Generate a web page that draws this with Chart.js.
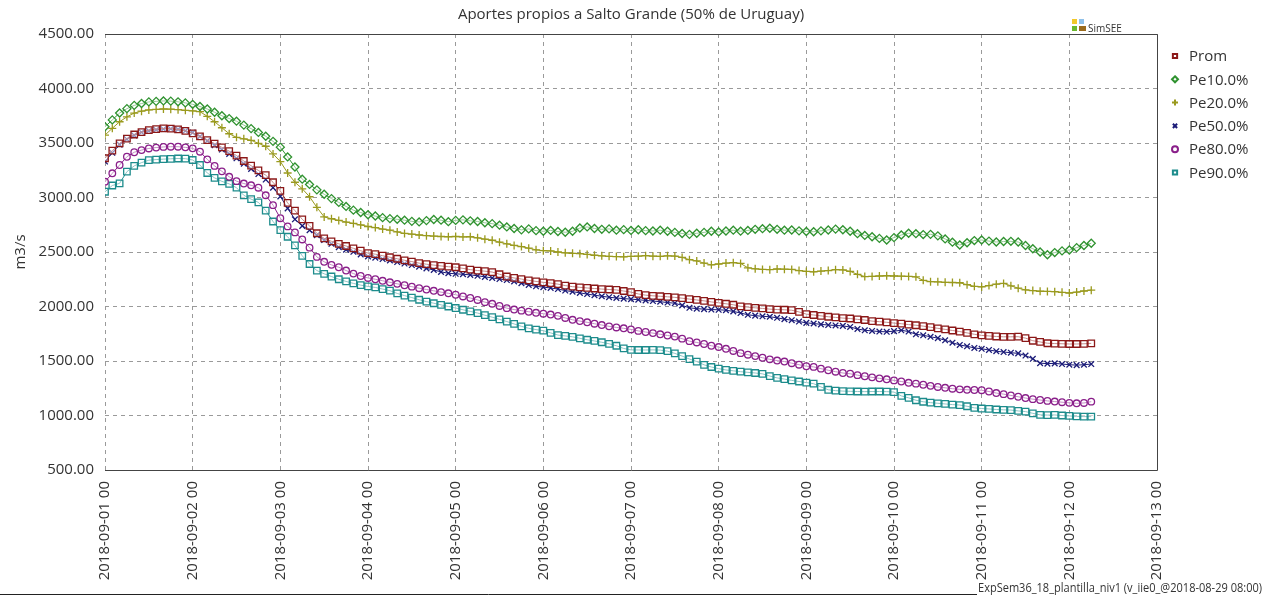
<!DOCTYPE html>
<html>
<head>
<meta charset="utf-8">
<script src="https://cdn.jsdelivr.net/npm/chart.js@4.4.1/dist/chart.umd.min.js"></script>
<style>
  html, body { margin: 0; padding: 0; background: #fff; }
  #wrap { width: 1274px; height: 597px; }
</style>
</head>
<body>
<div id="wrap"><canvas id="chart" width="1274" height="597"></canvas></div>
<script>
// Etichetas del eje X (una por día)
const dayLabels = ['2018-09-01 00', '2018-09-02 00', '2018-09-03 00', '2018-09-04 00', '2018-09-05 00',
    '2018-09-06 00', '2018-09-07 00', '2018-09-08 00', '2018-09-09 00', '2018-09-10 00',
    '2018-09-11 00', '2018-09-12 00', '2018-09-13 00'];
const stepHours = 2; // un valor cada 2 horas desde 2018-09-01 00

const prom = [
    3360, 3430, 3497, 3540, 3578, 3600, 3618, 3628, 3634, 3632, 3625, 3612,
    3589, 3560, 3527, 3495, 3460, 3425, 3385, 3335, 3292, 3248, 3205, 3140,
    3060, 2950, 2880, 2800, 2740, 2672, 2625, 2598, 2575, 2555, 2534, 2512,
    2490, 2480, 2466, 2452, 2438, 2424, 2412, 2398, 2388, 2380, 2372, 2365,
    2360, 2350, 2338, 2330, 2324, 2316, 2296, 2275, 2262, 2252, 2240, 2230,
    2222, 2215, 2205, 2192, 2182, 2176, 2170, 2165, 2160, 2156, 2152, 2142,
    2132, 2115, 2104, 2098, 2094, 2089, 2084, 2076, 2068, 2060, 2052, 2042,
    2034, 2025, 2016, 2002, 1994, 1988, 1982, 1976, 1972, 1970, 1966, 1950,
    1930, 1922, 1914, 1906, 1900, 1894, 1890, 1882, 1876, 1866, 1861, 1855,
    1848, 1842, 1834, 1828, 1820, 1810, 1800, 1790, 1780, 1770, 1758, 1745,
    1735, 1730, 1725, 1722, 1722, 1723, 1710, 1686, 1675, 1663, 1660, 1658,
    1656, 1656, 1658, 1662
];
const pe10 = [
    3649, 3712, 3775, 3815, 3845, 3862, 3877, 3882, 3886, 3884, 3878, 3868,
    3855, 3835, 3812, 3782, 3750, 3724, 3700, 3664, 3632, 3597, 3562, 3515,
    3462, 3372, 3280, 3168, 3120, 3070, 3030, 2990, 2955, 2918, 2884, 2862,
    2842, 2830, 2815, 2806, 2800, 2792, 2781, 2776, 2788, 2798, 2792, 2778,
    2790, 2795, 2786, 2780, 2768, 2760, 2746, 2730, 2716, 2703, 2712, 2696,
    2690, 2698, 2688, 2681, 2690, 2720, 2730, 2716, 2708, 2712, 2700, 2705,
    2698, 2704, 2696, 2693, 2700, 2690, 2680, 2670, 2662, 2672, 2680, 2690,
    2684, 2693, 2700, 2691, 2698, 2708, 2714, 2718, 2708, 2700, 2702, 2694,
    2688, 2686, 2694, 2702, 2710, 2704, 2690, 2668, 2652, 2640, 2625, 2610,
    2632, 2656, 2672, 2668, 2660, 2662, 2648, 2620, 2590, 2564, 2585, 2605,
    2610, 2600, 2592, 2596, 2598, 2592, 2560, 2530, 2500, 2475, 2495, 2510,
    2518, 2540, 2560, 2580
];
const pe20 = [
    3573, 3635, 3695, 3740, 3775, 3792, 3803, 3808, 3812, 3810, 3806, 3800,
    3795, 3787, 3745, 3695, 3640, 3585, 3552, 3538, 3525, 3497, 3470, 3400,
    3330, 3225, 3140, 3080, 3007, 2910, 2822, 2805, 2790, 2775, 2762, 2748,
    2734, 2724, 2710, 2700, 2684, 2670, 2664, 2656, 2650, 2646, 2642, 2640,
    2642, 2638, 2640, 2630, 2618, 2608, 2590, 2575, 2560, 2550, 2535, 2520,
    2512, 2510, 2500, 2492, 2488, 2485, 2478, 2470, 2465, 2460, 2458, 2456,
    2460, 2462, 2466, 2462, 2460, 2465, 2463, 2450, 2430, 2418, 2398, 2382,
    2390, 2398, 2402, 2395, 2355, 2346, 2340, 2338, 2344, 2342, 2340, 2330,
    2322, 2318, 2325, 2330, 2338, 2336, 2322, 2295, 2275, 2276, 2280, 2282,
    2280, 2278, 2276, 2272, 2240, 2228, 2226, 2222, 2220, 2218, 2200, 2185,
    2180, 2192, 2205, 2212, 2190, 2168, 2152, 2146, 2140, 2138, 2136, 2130,
    2124, 2132, 2142, 2150
];
const pe50 = [
    3330, 3410, 3485, 3535, 3570, 3598, 3612, 3622, 3628, 3630, 3625, 3612,
    3595, 3560, 3520, 3480, 3440, 3400, 3360, 3310, 3262, 3215, 3165, 3090,
    3010, 2900, 2800, 2740, 2700, 2655, 2610, 2575, 2545, 2522, 2502, 2478,
    2460, 2448, 2435, 2422, 2408, 2394, 2380, 2366, 2350, 2335, 2318, 2305,
    2300, 2296, 2290, 2282, 2272, 2262, 2252, 2243, 2230, 2214, 2198, 2185,
    2178, 2170, 2160, 2146, 2136, 2125, 2114, 2104, 2094, 2085, 2078, 2072,
    2068, 2062, 2056, 2050, 2044, 2036, 2030, 2010, 1988, 1980, 1976, 1972,
    1970, 1966, 1955, 1940, 1924, 1916, 1910, 1906, 1896, 1884, 1874, 1862,
    1850, 1844, 1836, 1830, 1826, 1822, 1812, 1794, 1782, 1776, 1770, 1768,
    1774, 1782, 1770, 1745, 1736, 1722, 1710, 1690, 1668, 1647, 1635, 1620,
    1612, 1601, 1590, 1582, 1576, 1570, 1550, 1520, 1480, 1476, 1478, 1472,
    1466, 1462, 1466, 1472
];
const pe80 = [
    3145, 3222, 3298, 3374, 3415, 3435, 3450, 3458, 3464, 3466, 3466, 3460,
    3451, 3420, 3350, 3290, 3240, 3190, 3150, 3128, 3112, 3090, 3020, 2930,
    2810, 2735, 2680, 2615, 2540, 2455, 2410, 2382, 2360, 2330, 2302, 2280,
    2262, 2250, 2236, 2222, 2208, 2195, 2182, 2168, 2156, 2144, 2132, 2121,
    2108, 2092, 2078, 2060, 2040, 2025, 2005, 1985, 1972, 1962, 1952, 1942,
    1934, 1926, 1914, 1895, 1878, 1866, 1855, 1842, 1830, 1818, 1808, 1800,
    1790, 1776, 1766, 1756, 1745, 1734, 1724, 1705, 1682, 1670, 1656, 1640,
    1628, 1612, 1592, 1572, 1558, 1545, 1530, 1515, 1504, 1495, 1480, 1466,
    1452, 1446, 1430, 1415, 1402, 1390, 1383, 1370, 1360, 1350, 1341, 1332,
    1322, 1312, 1300, 1292, 1282, 1272, 1262, 1254, 1246, 1240, 1236, 1234,
    1232, 1220, 1206, 1196, 1184, 1172, 1160, 1150, 1142, 1134, 1128, 1122,
    1116, 1112, 1115, 1127
];
const pe90 = [
    3053, 3110, 3130, 3237, 3290, 3320, 3342, 3348, 3352, 3355, 3358, 3356,
    3344, 3298, 3225, 3180, 3148, 3125, 3090, 3020, 2985, 2955, 2880, 2780,
    2700, 2640, 2560, 2465, 2390, 2330, 2300, 2275, 2250, 2230, 2212, 2196,
    2184, 2175, 2160, 2145, 2120, 2100, 2082, 2062, 2045, 2030, 2015, 2000,
    1986, 1970, 1955, 1940, 1920, 1902, 1882, 1862, 1840, 1818, 1800, 1788,
    1778, 1758, 1738, 1730, 1722, 1708, 1695, 1684, 1672, 1658, 1640, 1615,
    1602, 1601, 1601, 1602, 1600, 1590, 1570, 1545, 1518, 1495, 1465, 1445,
    1430, 1418, 1410, 1402, 1396, 1390, 1382, 1362, 1345, 1334, 1322, 1312,
    1302, 1292, 1262, 1236, 1228, 1224, 1222, 1220, 1219, 1220, 1220, 1219,
    1215, 1180, 1162, 1140, 1126, 1118, 1112, 1106, 1100, 1096, 1085, 1070,
    1064, 1060, 1055, 1052, 1050, 1042, 1036, 1020, 1006, 1004, 1005, 1000,
    996, 992, 990, 990
];

const seriesNames = ['Prom', 'Pe10.0%', 'Pe20.0%', 'Pe50.0%', 'Pe80.0%', 'Pe90.0%'];
const seriesValues = [prom, pe10, pe20, pe50, pe80, pe90];
const seriesColors = ['#8c1818', '#2f922f', '#9a9a1e', '#1b1b78', '#8a1f8a', '#1d8c8c'];
const seriesStyles = ['rect', 'rectRot', 'cross', 'crossRot', 'circle', 'rect'];
const seriesRadius = [4.6, 4, 4, 4, 3.3, 4.6];

const FONT = '"Open Sans", "Noto Sans", sans-serif';
const TEXT = '#333';

function toPoints(values) {
    return values.map((v, i) => ({ x: i * stepHours, y: v }));
}

// dibuja un marcador pequeño (para la leyenda)
function drawMarker(ctx, style, x, y, r) {
    ctx.beginPath();
    if (style === 'rect') {
        const s = r * Math.SQRT1_2;
        ctx.rect(x - s, y - s, 2 * s, 2 * s);
    } else if (style === 'rectRot') {
        ctx.moveTo(x, y - r); ctx.lineTo(x + r, y); ctx.lineTo(x, y + r); ctx.lineTo(x - r, y); ctx.closePath();
    } else if (style === 'cross') {
        ctx.moveTo(x, y - r); ctx.lineTo(x, y + r); ctx.moveTo(x - r, y); ctx.lineTo(x + r, y);
    } else if (style === 'crossRot') {
        const s = r * Math.SQRT1_2;
        ctx.moveTo(x - s, y - s); ctx.lineTo(x + s, y + s); ctx.moveTo(x + s, y - s); ctx.lineTo(x - s, y + s);
    } else {
        ctx.arc(x, y, r, 0, Math.PI * 2);
    }
    ctx.fill();
    ctx.stroke();
}

const decor = {
    id: 'decor',
    beforeDraw(chart) {
        const ctx = chart.ctx;
        ctx.save();
        ctx.fillStyle = '#fff';
        ctx.fillRect(0, 0, chart.width, chart.height);
        ctx.restore();
    },
    afterDraw(chart) {
        const ctx = chart.ctx;
        const a = chart.chartArea;
        ctx.save();

        // marco: arriba, derecha, abajo
        ctx.strokeStyle = '#444';
        ctx.lineWidth = 1;
        ctx.beginPath();
        ctx.moveTo(a.left, a.top + 0.5); ctx.lineTo(a.right + 0.5, a.top + 0.5);
        ctx.lineTo(a.right + 0.5, a.bottom + 0.5); ctx.lineTo(a.left, a.bottom + 0.5);
        ctx.stroke();

        // título
        ctx.fillStyle = TEXT;
        ctx.font = '15px ' + FONT;
        ctx.textAlign = 'center';
        ctx.textBaseline = 'middle';
        ctx.fillText('Aportes propios a Salto Grande (50% de Uruguay)', (a.left + a.right) / 2, 15);

        // título del eje Y
        ctx.save();
        ctx.translate(21, (a.top + a.bottom) / 2);
        ctx.rotate(-Math.PI / 2);
        ctx.fillText('m3/s', 0, 0);
        ctx.restore();

        // leyenda
        ctx.textAlign = 'left';
        chart.data.datasets.forEach((ds, i) => {
            const y = 56 + i * 23.3;
            ctx.strokeStyle = ds.borderColor;
            ctx.fillStyle = '#fff';
            ctx.lineWidth = 2;
            drawMarker(ctx, ds.pointStyle, a.right + 18, y, 3);
            ctx.fillStyle = TEXT;
            ctx.fillText(ds.label, a.right + 32, y + 1);
        });

        // logo SimSEE
        ctx.fillStyle = '#f2c82a'; ctx.fillRect(1072, 19, 5, 5);
        ctx.fillStyle = '#8fc1ea'; ctx.fillRect(1079, 19, 5, 5);
        ctx.fillStyle = '#6bb82d'; ctx.fillRect(1072, 26, 5, 5);
        ctx.fillStyle = '#9a6a1c'; ctx.fillRect(1079, 26, 7, 5);
        ctx.fillStyle = TEXT;
        ctx.font = '10px ' + FONT;
        ctx.textBaseline = 'alphabetic';
        ctx.fillText('SimSEE', 1088, 32);

        // pie
        ctx.font = '12px ' + FONT;
        ctx.textAlign = 'right';
        ctx.fillText('ExpSem36_18_plantilla_niv1 (v_iie0_@2018-08-29 08:00)', 1262, 592, 284);
        ctx.strokeStyle = '#222';
        ctx.lineWidth = 1;
        ctx.beginPath();
        ctx.moveTo(0, 594.5); ctx.lineTo(977, 594.5);
        ctx.stroke();

        ctx.restore();
    }
};

const datasets = seriesNames.map((name, i) => ({
    label: name,
    data: toPoints(seriesValues[i]),
    borderColor: seriesColors[i],
    backgroundColor: 'rgba(255,255,255,0.5)',
    borderWidth: 1,
    pointStyle: seriesStyles[i],
    pointRadius: seriesRadius[i],
    pointBorderWidth: 1.3,
    pointBorderColor: seriesColors[i],
    pointBackgroundColor: 'rgba(255,255,255,0.5)',
    fill: false,
    tension: 0
}));

new Chart(document.getElementById('chart'), {
    type: 'line',
    data: { datasets: datasets },
    plugins: [decor],
    options: {
        responsive: false,
        animation: false,
        devicePixelRatio: 1,
        layout: { padding: { left: 0, right: 117, top: 34, bottom: 0 } },
        plugins: {
            legend: { display: false },
            title: { display: false },
            tooltip: { enabled: false }
        },
        scales: {
            x: {
                type: 'linear',
                min: 0,
                max: 288,
                afterFit: (scale) => { scale.height = 127; },
                grid: { color: '#9a9a9a', lineWidth: 1, drawTicks: false },
                border: { display: false, dash: [4, 4] },
                ticks: {
                    stepSize: 24,
                    autoSkip: false,
                    maxRotation: 90,
                    minRotation: 90,
                    padding: 11,
                    color: TEXT,
                    font: { family: FONT, size: 15 },
                    callback: (v) => dayLabels[v / 24]
                }
            },
            y: {
                min: 500,
                max: 4500,
                afterFit: (scale) => { scale.width = 105; },
                grid: { color: '#9a9a9a', lineWidth: 1, drawTicks: false },
                border: { display: false, dash: [4, 4] },
                ticks: {
                    stepSize: 500,
                    padding: 11,
                    color: TEXT,
                    font: { family: FONT, size: 15 },
                    callback: (v) => v.toFixed(2)
                }
            }
        }
    }
});
</script>
</body>
</html>
